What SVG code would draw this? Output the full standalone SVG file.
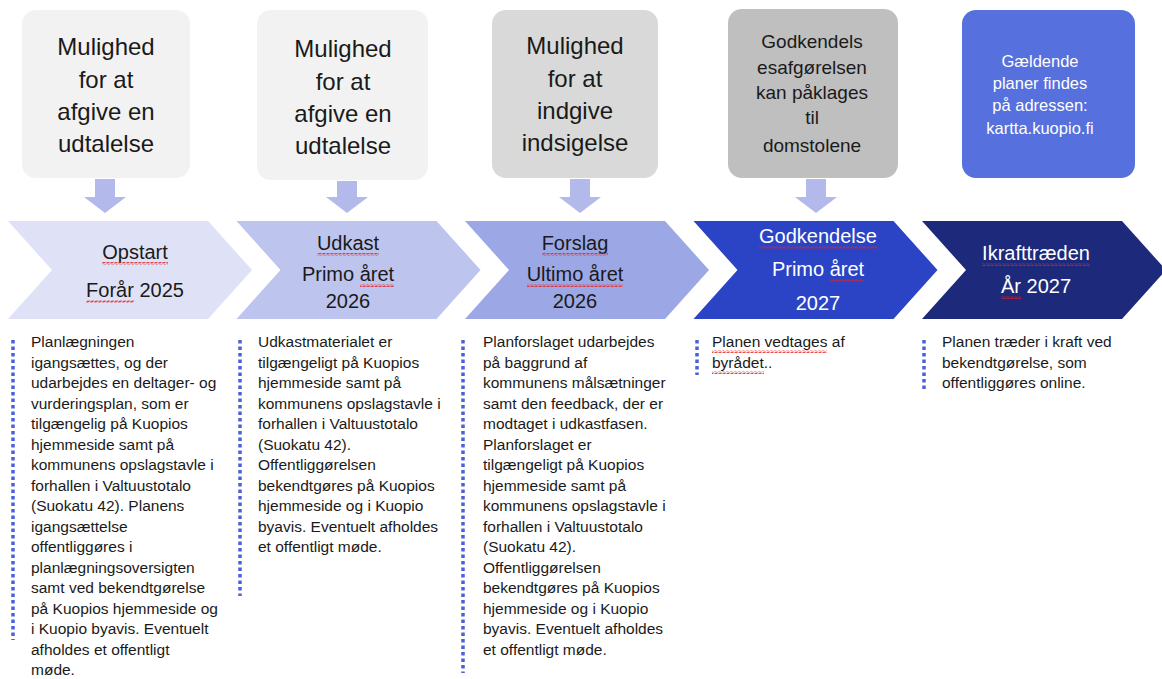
<svg xmlns="http://www.w3.org/2000/svg" width="1162" height="679" viewBox="0 0 1162 679">
  <defs>
    <pattern id="wavy" patternUnits="userSpaceOnUse" width="4" height="3">
      <path d="M0 2.5 L1 0.5 L3 2.5 L4 0.5" fill="none" stroke="#e02020" stroke-width="0.8"/>
    </pattern>
    <style>
      .box-t { font-family: "Liberation Sans", Arial, sans-serif; font-size: 24px; fill: #1a1a1a; text-anchor: middle; }
      .box4-t { font-family: "Liberation Sans", Arial, sans-serif; font-size: 19px; fill: #1a1a1a; text-anchor: middle; }
      .box5-t { font-family: "Liberation Sans", Arial, sans-serif; font-size: 16.5px; fill: #ffffff; text-anchor: middle; }
      .chev-t { font-family: "Liberation Sans", Arial, sans-serif; font-size: 20px; fill: #1a1a1a; text-anchor: middle; }
      .chev-w { font-family: "Liberation Sans", Arial, sans-serif; font-size: 20px; fill: #ffffff; text-anchor: middle; }
      .col-t { font-family: "Liberation Sans", Arial, sans-serif; font-size: 15.5px; fill: #1a1a1a; }
      .arrow { fill: #b3b9eb; }
      .dots { stroke: #4a62d8; stroke-width: 3.5; stroke-dasharray: 3.5 3; fill: none; }
      .squiggle { fill: url(#wavy); }
    </style>
  </defs>
  <rect width="1162" height="679" fill="#ffffff"/>

  <!-- Top boxes -->
  <g id="box1">
    <rect x="22" y="10" width="168" height="168" rx="14" fill="#f2f2f2"/>
    <text class="box-t"><tspan x="106" y="55">Mulighed</tspan><tspan x="106" y="88">for at</tspan><tspan x="106" y="120">afgive en</tspan><tspan x="106" y="152">udtalelse</tspan></text>
  </g>
  <g id="box2">
    <rect x="257" y="10" width="171" height="170" rx="14" fill="#f2f2f2"/>
    <text class="box-t"><tspan x="343" y="57">Mulighed</tspan><tspan x="343" y="90">for at</tspan><tspan x="343" y="122">afgive en</tspan><tspan x="343" y="154">udtalelse</tspan></text>
  </g>
  <g id="box3">
    <rect x="492" y="10" width="166" height="168" rx="14" fill="#d9d9d9"/>
    <text class="box-t"><tspan x="575" y="54">Mulighed</tspan><tspan x="575" y="87">for at</tspan><tspan x="575" y="119">indgive</tspan><tspan x="575" y="151">indsigelse</tspan></text>
  </g>
  <g id="box4">
    <rect x="728" y="9" width="170" height="169" rx="14" fill="#bfbfbf"/>
    <text class="box4-t"><tspan x="812" y="48">Godkendels</tspan><tspan x="812" y="74">esafgørelsen</tspan><tspan x="812" y="99">kan påklages</tspan><tspan x="812" y="124">til</tspan><tspan x="812" y="152">domstolene</tspan></text>
  </g>
  <g id="box5">
    <rect x="962" y="10" width="173" height="168" rx="14" fill="#5670dd"/>
    <text class="box5-t"><tspan x="1040" y="67">Gældende</tspan><tspan x="1040" y="89">planer findes</tspan><tspan x="1040" y="111">på adressen:</tspan><tspan x="1040" y="134">kartta.kuopio.fi</tspan></text>
  </g>

  <!-- Connectors (down arrows) -->
  <g id="connectors">
    <polygon class="arrow" points="95,179 115,179 115,197 126,197 105,213 84,197 95,197"/>
    <polygon class="arrow" points="337,181 357,181 357,197 368,197 347,213 326,197 337,197"/>
    <polygon class="arrow" points="570,179 590,179 590,197 601,197 580,213 559,197 570,197"/>
    <polygon class="arrow" points="806,179 826,179 826,197 837,197 816,213 795,197 806,197"/>
  </g>

  <!-- Chevrons -->
  <g id="chevron1">
    <polygon points="8,221 208,221 252,270 208,319 8,319 52,270" fill="#dfe2f6"/>
    <text class="chev-t"><tspan x="135" y="259">Opstart</tspan><tspan x="135" y="297">Forår 2025</tspan></text>
  </g>
  <g id="chevron2">
    <polygon points="236.5,221 436.5,221 480.5,270 436.5,319 236.5,319 280.5,270" fill="#bdc4ee"/>
    <text class="chev-t"><tspan x="348" y="250">Udkast</tspan><tspan x="348" y="281">Primo året</tspan><tspan x="348" y="308">2026</tspan></text>
  </g>
  <g id="chevron3">
    <polygon points="465,221 665,221 709,270 665,319 465,319 509,270" fill="#9ca8e6"/>
    <text class="chev-t"><tspan x="575" y="250">Forslag</tspan><tspan x="575" y="281">Ultimo året</tspan><tspan x="575" y="308">2026</tspan></text>
  </g>
  <g id="chevron4">
    <polygon points="693.5,221 893.5,221 937.5,270 893.5,319 693.5,319 737.5,270" fill="#2b44c6"/>
    <text class="chev-w"><tspan x="818" y="243">Godkendelse</tspan><tspan x="818" y="276">Primo året</tspan><tspan x="818" y="310">2027</tspan></text>
  </g>
  <g id="chevron5">
    <polygon points="922,221 1122,221 1166,270 1122,319 922,319 966,270" fill="#1d2a7c"/>
    <text class="chev-w"><tspan x="1036" y="260">Ikrafttræden</tspan><tspan x="1036" y="293">År 2027</tspan></text>
  </g>

  <!-- Spell-check squiggles -->
  <g id="squiggles">
    <rect class="squiggle" x="102" y="262" width="66" height="3"/>
    <rect class="squiggle" x="86" y="300" width="48" height="3"/>
    <rect class="squiggle" x="317" y="253" width="62" height="3"/>
    <rect class="squiggle" x="360" y="284" width="34" height="3"/>
    <rect class="squiggle" x="542" y="253" width="66" height="3"/>
    <rect class="squiggle" x="527" y="284" width="96" height="3"/>
    <rect class="squiggle" x="759" y="246" width="118" height="3"/>
    <rect class="squiggle" x="830" y="279" width="34" height="3"/>
    <rect class="squiggle" x="982" y="263" width="108" height="3"/>
    <rect class="squiggle" x="1001" y="296" width="20" height="3"/>
    <rect class="squiggle" x="712" y="350" width="115" height="3"/>
    <rect class="squiggle" x="712" y="371" width="52" height="3"/>
  </g>

  <!-- Description columns -->
  <g id="column1">
    <line class="dots" x1="13" y1="340" x2="13" y2="640"/>
    <text class="col-t"><tspan x="31" y="347">Planlægningen</tspan><tspan x="31" y="367.5">igangsættes, og der</tspan><tspan x="31" y="388">udarbejdes en deltager- og</tspan><tspan x="31" y="408.5">vurderingsplan, som er</tspan><tspan x="31" y="429">tilgængelig på Kuopios</tspan><tspan x="31" y="449.5">hjemmeside samt på</tspan><tspan x="31" y="470">kommunens opslagstavle i</tspan><tspan x="31" y="490.5">forhallen i Valtuustotalo</tspan><tspan x="31" y="511">(Suokatu 42). Planens</tspan><tspan x="31" y="531.5">igangsættelse</tspan><tspan x="31" y="552">offentliggøres i</tspan><tspan x="31" y="572.5">planlægningsoversigten</tspan><tspan x="31" y="593">samt ved bekendtgørelse</tspan><tspan x="31" y="613.5">på Kuopios hjemmeside og</tspan><tspan x="31" y="634">i Kuopio byavis. Eventuelt</tspan><tspan x="31" y="654.5">afholdes et offentligt</tspan><tspan x="31" y="675">møde.</tspan></text>
  </g>
  <g id="column2">
    <line class="dots" x1="240" y1="340" x2="240" y2="596"/>
    <text class="col-t"><tspan x="258" y="347">Udkastmaterialet er</tspan><tspan x="258" y="367.5">tilgængeligt på Kuopios</tspan><tspan x="258" y="388">hjemmeside samt på</tspan><tspan x="258" y="408.5">kommunens opslagstavle i</tspan><tspan x="258" y="429">forhallen i Valtuustotalo</tspan><tspan x="258" y="449.5">(Suokatu 42).</tspan><tspan x="258" y="470">Offentliggørelsen</tspan><tspan x="258" y="490.5">bekendtgøres på Kuopios</tspan><tspan x="258" y="511">hjemmeside og i Kuopio</tspan><tspan x="258" y="531.5">byavis. Eventuelt afholdes</tspan><tspan x="258" y="552">et offentligt møde.</tspan></text>
  </g>
  <g id="column3">
    <line class="dots" x1="463" y1="340" x2="463" y2="673"/>
    <text class="col-t"><tspan x="483" y="347">Planforslaget udarbejdes</tspan><tspan x="483" y="367.5">på baggrund af</tspan><tspan x="483" y="388">kommunens målsætninger</tspan><tspan x="483" y="408.5">samt den feedback, der er</tspan><tspan x="483" y="429">modtaget i udkastfasen.</tspan><tspan x="483" y="449.5">Planforslaget er</tspan><tspan x="483" y="470">tilgængeligt på Kuopios</tspan><tspan x="483" y="490.5">hjemmeside samt på</tspan><tspan x="483" y="511">kommunens opslagstavle i</tspan><tspan x="483" y="531.5">forhallen i Valtuustotalo</tspan><tspan x="483" y="552">(Suokatu 42).</tspan><tspan x="483" y="572.5">Offentliggørelsen</tspan><tspan x="483" y="593">bekendtgøres på Kuopios</tspan><tspan x="483" y="613.5">hjemmeside og i Kuopio</tspan><tspan x="483" y="634">byavis. Eventuelt afholdes</tspan><tspan x="483" y="654.5">et offentligt møde.</tspan></text>
  </g>
  <g id="column4">
    <line class="dots" x1="697" y1="340" x2="697" y2="375"/>
    <text class="col-t"><tspan x="712" y="347">Planen vedtages af</tspan><tspan x="712" y="367.5">byrådet..</tspan></text>
  </g>
  <g id="column5">
    <line class="dots" x1="924" y1="340" x2="924" y2="390"/>
    <text class="col-t"><tspan x="942" y="347">Planen træder i kraft ved</tspan><tspan x="942" y="367.5">bekendtgørelse, som</tspan><tspan x="942" y="388">offentliggøres online.</tspan></text>
  </g>
</svg>
